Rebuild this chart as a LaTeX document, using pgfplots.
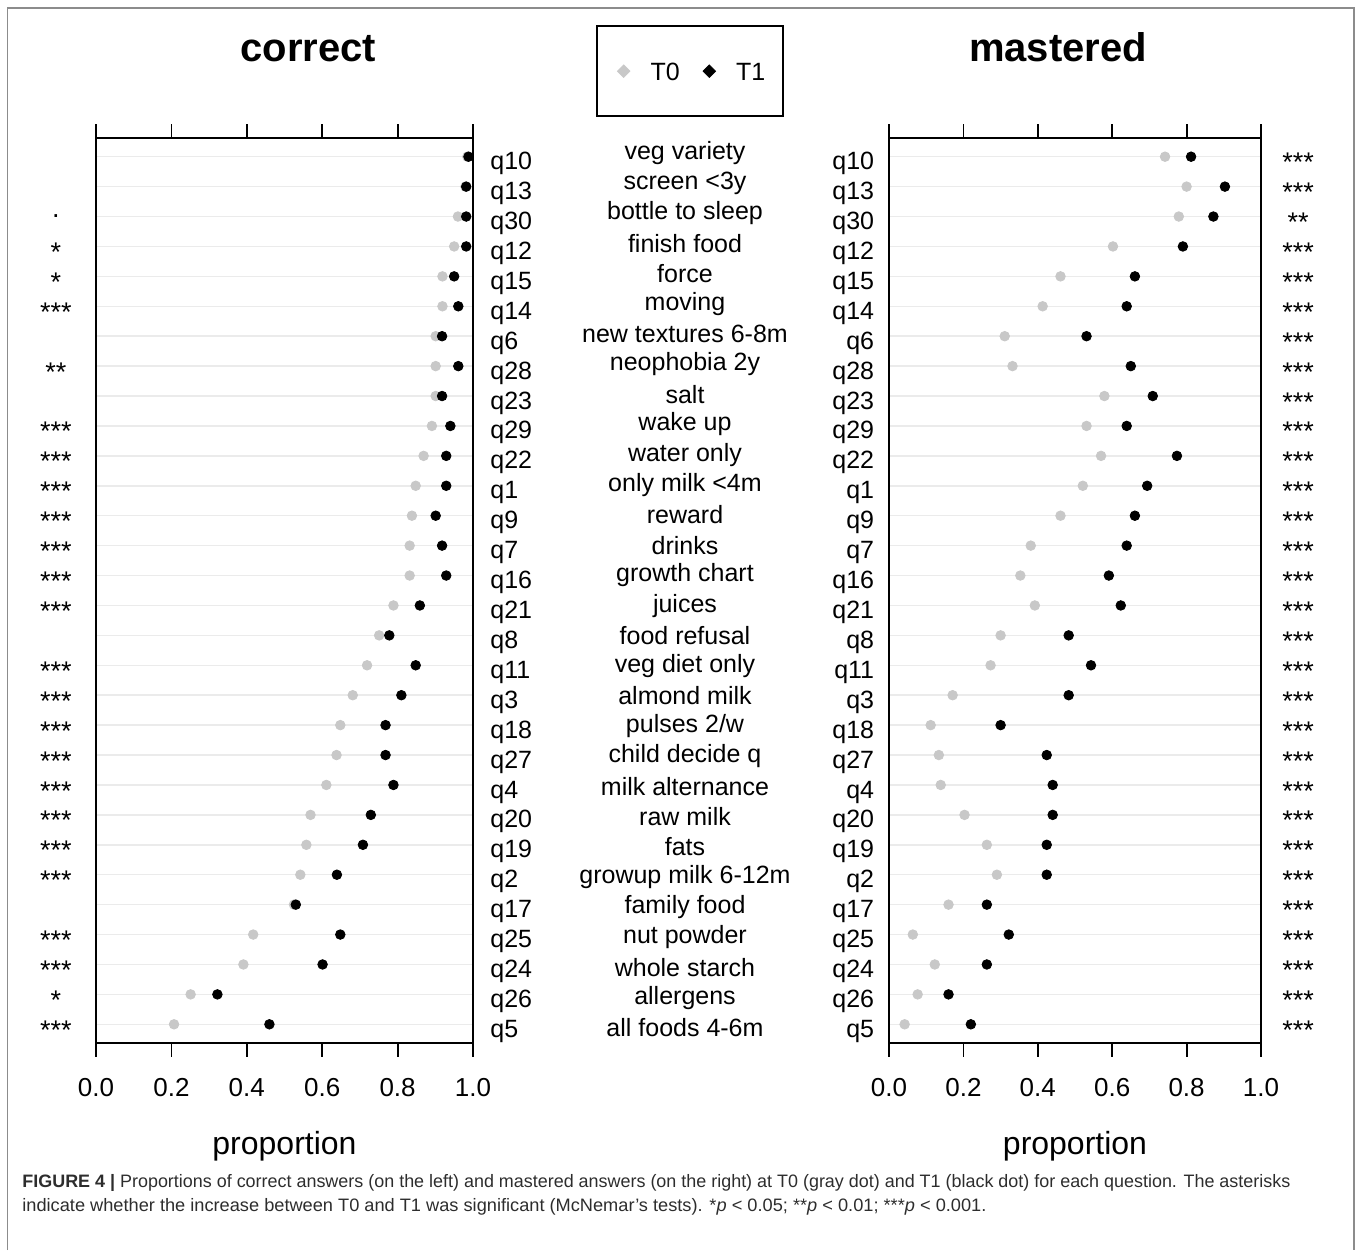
\documentclass[border=0pt]{standalone}
\usepackage{pgfplots}
\pgfplotsset{compat=1.18}
\usepackage{pgfplotstable}
\usepackage{graphicx}
\usepackage{fontspec}
\setmainfont{Liberation Sans}
\definecolor{tzero}{RGB}{200,200,200}
\definecolor{gridc}{RGB}{235,235,235}
\definecolor{capc}{RGB}{45,45,45}
\definecolor{framec}{RGB}{140,140,140}
\newcommand\qf{\fontsize{12.5}{12.5}\selectfont}
\newcommand\stf{\fontsize{13.5}{13.5}\selectfont}

\pgfplotstableread{
y  c0    c1    m0    m1
30 0.985 0.988 0.742 0.812
29 0.980 0.982 0.800 0.903
28 0.960 0.982 0.779 0.872
27 0.950 0.982 0.602 0.790
26 0.919 0.950 0.461 0.661
25 0.919 0.961 0.413 0.639
24 0.901 0.918 0.311 0.531
23 0.901 0.961 0.332 0.650
22 0.901 0.918 0.579 0.709
21 0.891 0.940 0.531 0.639
20 0.869 0.929 0.570 0.774
19 0.848 0.929 0.521 0.694
18 0.838 0.901 0.461 0.661
17 0.832 0.918 0.381 0.639
16 0.832 0.929 0.353 0.591
15 0.789 0.859 0.392 0.623
14 0.751 0.778 0.300 0.483
13 0.719 0.848 0.273 0.543
12 0.681 0.810 0.171 0.483
11 0.648 0.768 0.112 0.300
10 0.638 0.768 0.134 0.424
9  0.611 0.789 0.139 0.440
8  0.569 0.729 0.203 0.440
7  0.558 0.708 0.263 0.424
6  0.542 0.639 0.290 0.424
5  0.525 0.530 0.160 0.263
4  0.417 0.648 0.064 0.322
3  0.391 0.601 0.123 0.263
2  0.251 0.322 0.077 0.160
1  0.207 0.460 0.042 0.220
}\dottable

\pgfplotsset{dotax/.style={
  scale only axis, anchor=north west, height=452.2pt,
  xmin=0, xmax=1, ymin=0.385, ymax=30.615, clip=false,
  axis line style={line width=1pt},
  tick align=outside, major tick length=7pt,
  xtick={0,0.2,0.4,0.6,0.8,1}, xticklabels={0.0,0.2,0.4,0.6,0.8,1.0},
  xtick pos=both, xticklabel pos=lower,
  x tick style={line width=0.9pt, black},
  ytick={1,...,30}, yticklabels={}, y tick style={draw=none},
  ymajorgrids, y grid style={gridc, line width=0.75pt},
  xticklabel style={font=\fontsize{13}{13}\selectfont, yshift=-7.5pt},
  legend image code/.code={\draw[#1] plot coordinates {(0pt,0.9pt)};},
}}

\begin{document}
\begin{tikzpicture}
\begin{scope}[x=0.5pt,y=-0.5pt]
\path (0,0) rectangle (1360,1250);
\end{scope}

\begin{axis}[dotax, at={(48pt,-69.15pt)}, width=188.5pt,
  legend style={at={(1.5793,1.0722)}, anchor=center, draw=none, fill=none,
    legend columns=2, font=\fontsize{12.5}{12.5}\selectfont, nodes={inner sep=0pt},
    /tikz/every odd column/.append style={column sep=10.3pt},
    /tikz/every even column/.append style={column sep=11.7pt}}]
\addplot[only marks, mark=*, mark size=2.4pt, color=tzero, forget plot] table[x=c0,y=y]{\dottable};
\addplot[only marks, mark=*, mark size=2.4pt, color=black, forget plot] table[x=c1,y=y]{\dottable};
\addlegendimage{only marks, mark=square*, mark size=2.2pt, mark options={rotate=45}, color=tzero}
\addlegendentry{T0}
\addlegendimage{only marks, mark=square*, mark size=2.2pt, mark options={rotate=45}, color=black}
\addlegendentry{T1}
\end{axis}

\begin{axis}[dotax, at={(444.5pt,-69.15pt)}, width=186pt]
\addplot[only marks, mark=*, mark size=2.4pt, color=tzero] table[x=m0,y=y]{\dottable};
\addplot[only marks, mark=*, mark size=2.4pt, color=black] table[x=m1,y=y]{\dottable};
\end{axis}

\begin{scope}[x=0.5pt,y=-0.5pt]
\draw[framec, line width=0.6pt] (7.5,1250) -- (7.5,8) -- (1354,8) -- (1354,1250);
\draw[line width=1pt] (597,26.5) rectangle (782.5,116.5);
\node[anchor=base, font=\bfseries\fontsize{20}{20}\selectfont] at (308.5,62) {correct};
\node[anchor=base, font=\bfseries\fontsize{20}{20}\selectfont] at (1058,62) {mastered};
\node[anchor=base, font=\fontsize{16}{16}\selectfont] at (284.5,1154) {proportion};
\node[anchor=base, font=\fontsize{16}{16}\selectfont] at (1075,1154) {proportion};
\foreach \q/\nm/\sl/\sr [count=\k] in {
q10/veg variety//***,
q13/screen <3y//***,
q30/bottle to sleep//**,
q12/finish food/*/***,
q15/force/*/***,
q14/moving/***/***,
q6/new textures 6-8m//***,
q28/neophobia 2y/**/***,
q23/salt//***,
q29/wake up/***/***,
q22/water only/***/***,
q1/only milk <4m/***/***,
q9/reward/***/***,
q7/drinks/***/***,
q16/growth chart/***/***,
q21/juices/***/***,
q8/food refusal//***,
q11/veg diet only/***/***,
q3/almond milk/***/***,
q18/{pulses 2/w}/***/***,
q27/child decide q/***/***,
q4/milk alternance/***/***,
q20/raw milk/***/***,
q19/fats/***/***,
q2/growup milk 6-12m/***/***,
q17/family food//***,
q25/nut powder/***/***,
q24/whole starch/***/***,
q26/allergens/*/***,
q5/all foods 4-6m/***/***} {
  \pgfmathsetmacro\ry{156.7+(\k-1)*29.92}
  \pgfmathsetmacro\my{153+(\k-1)*30.17}
  \node[anchor=base west, font=\qf, inner sep=0pt] at (490,\ry+13) {\q};
  \node[anchor=base east, font=\qf, inner sep=0pt] at (874.5,\ry+13) {\q};
  \node[font=\qf, inner sep=0pt] at (685,\my) {\nm};
  \node[font=\stf, inner sep=0pt, yshift=-2.85pt] at (56,\ry) {\sl};
  \node[font=\stf, inner sep=0pt, yshift=-2.85pt] at (1298,\ry) {\sr};
}
\node[font=\stf, inner sep=0pt] at (56,216.5) {.};
\node[anchor=base west, inner sep=0pt, text=capc] at (22,1187) {\resizebox{634pt}{\height}{\fontsize{9}{9}\selectfont\textbf{FIGURE 4 |} Proportions of correct answers (on the left) and mastered answers (on the right) at T0 (gray dot) and T1 (black dot) for each question. The asterisks}};
\node[anchor=base west, inner sep=0pt, text=capc] at (22,1211) {\resizebox{482pt}{\height}{\fontsize{9}{9}\selectfont indicate whether the increase between T0 and T1 was significant (McNemar’s tests). *\textit{p} < 0.05; **\textit{p} < 0.01; ***\textit{p} < 0.001.}};
\end{scope}
\end{tikzpicture}
\end{document}
